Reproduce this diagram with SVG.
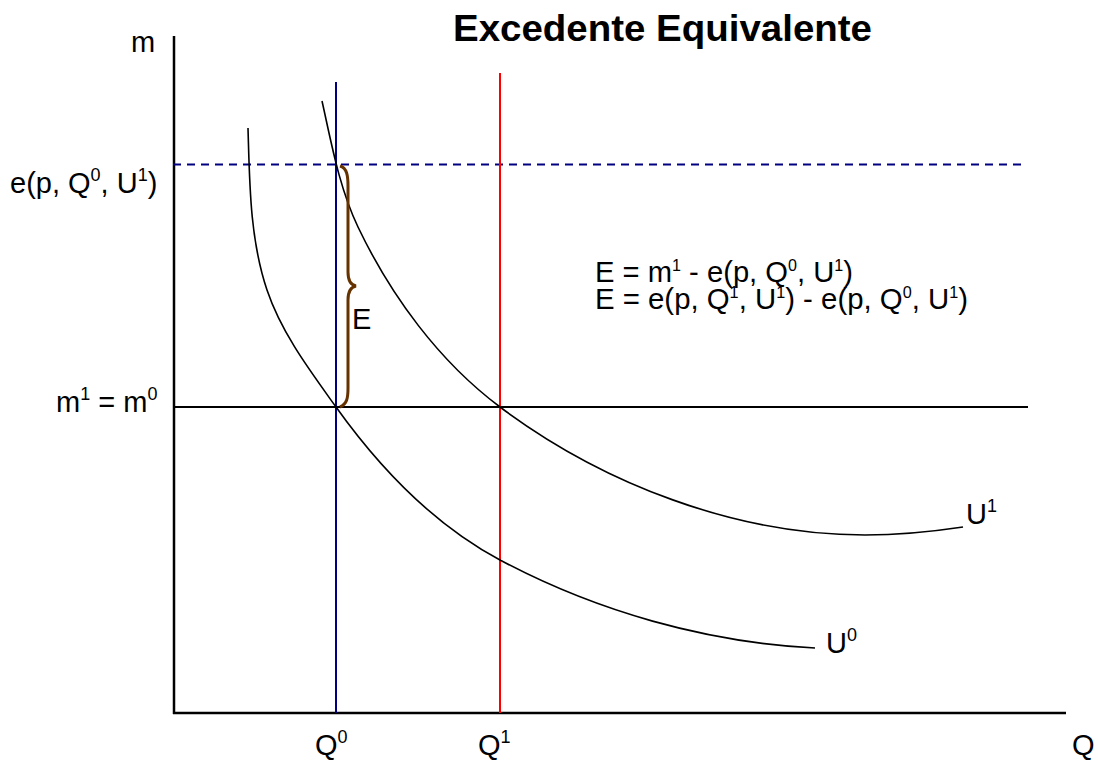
<svg xmlns="http://www.w3.org/2000/svg" width="1098" height="760" viewBox="0 0 1098 760">
<style>
text{font-family:"Liberation Sans",Arial,sans-serif;font-size:29px;fill:#000}
.sup{font-size:18px}
.f{font-size:26px}
.f .sup{font-size:16px}
.title{font-size:37px;font-weight:bold}
.curve{fill:none;stroke:#000;stroke-width:1.6}
</style>
<rect width="1098" height="760" fill="#fff"/>
<g id="connectors">
  <line id="y-axis" x1="174" y1="36" x2="174" y2="714" stroke="#000" stroke-width="2.5"/>
  <line id="x-axis" x1="173" y1="713" x2="1066" y2="713" stroke="#000" stroke-width="2.5"/>
  <line id="m-line" x1="174" y1="407" x2="1028" y2="407" stroke="#000" stroke-width="2"/>
  <line id="e-line" x1="173" y1="164.5" x2="1021" y2="164.5" stroke="#000080" stroke-width="2" stroke-dasharray="8,6"/>
  <line id="q0-line" x1="336" y1="82" x2="336" y2="713" stroke="#000080" stroke-width="2"/>
  <line id="q1-line" x1="500" y1="73" x2="500" y2="713" stroke="#ff0000" stroke-width="2"/>
  <path id="u0-curve" class="curve" d="M248,128 C249.6,182 249.7,238.7 267,290 C281.5,333 309.7,370.3 336,407 C379.5,467.8 434,524.8 500,560 C595.9,611.2 706,642.5 815,648"/>
  <path id="u1-curve" class="curve" d="M322,101 C331.6,143.8 339.2,187.7 358,227 C390.9,295.8 438.9,361.2 500,407 C603,484 736,535 865,535 C897.8,535 930.5,531.9 963,527"/>
  <path id="brace" d="M340,166 C347,168 348,176 348,186 L348,272 C348,280 351,285 356,286 C351,287 348,292 348,300 L348,388 C348,398 347,404 340,407" fill="none" stroke="#663300" stroke-width="3"/>
</g>
<g id="title"><text class="title" x="453" y="41" textLength="419" lengthAdjust="spacingAndGlyphs">Excedente Equivalente</text></g>
<g id="label-m"><text x="131" y="52">m</text></g>
<g id="label-e"><text x="10" y="193">e(p, Q<tspan class="sup" dy="-12">0</tspan><tspan dy="12">, U</tspan><tspan class="sup" dy="-12">1</tspan><tspan dy="12">)</tspan></text></g>
<g id="label-m1m0"><text x="56" y="412">m<tspan class="sup" dy="-12">1</tspan><tspan dy="12"> = m</tspan><tspan class="sup" dy="-12">0</tspan></text></g>
<g id="label-E"><text x="352" y="329">E</text></g>
<g id="formula" class="f"><text x="595" y="282" textLength="258" lengthAdjust="spacingAndGlyphs">E = m<tspan class="sup" dy="-11">1</tspan><tspan dy="11"> - e(p, Q</tspan><tspan class="sup" dy="-11">0</tspan><tspan dy="11">, U</tspan><tspan class="sup" dy="-11">1</tspan><tspan dy="11">)</tspan></text>
<text x="595" y="309" textLength="373" lengthAdjust="spacingAndGlyphs">E = e(p, Q<tspan class="sup" dy="-11">1</tspan><tspan dy="11">, U</tspan><tspan class="sup" dy="-11">1</tspan><tspan dy="11">) - e(p, Q</tspan><tspan class="sup" dy="-11">0</tspan><tspan dy="11">, U</tspan><tspan class="sup" dy="-11">1</tspan><tspan dy="11">)</tspan></text></g>
<g id="label-U1"><text x="966" y="524">U<tspan class="sup" dy="-12">1</tspan></text></g>
<g id="label-U0"><text x="826" y="653">U<tspan class="sup" dy="-12">0</tspan></text></g>
<g id="label-Q0"><text x="315" y="755">Q<tspan class="sup" dy="-12">0</tspan></text></g>
<g id="label-Q1"><text x="478" y="755">Q<tspan class="sup" dy="-12">1</tspan></text></g>
<g id="label-Q"><text x="1072" y="755">Q</text></g>
</svg>
